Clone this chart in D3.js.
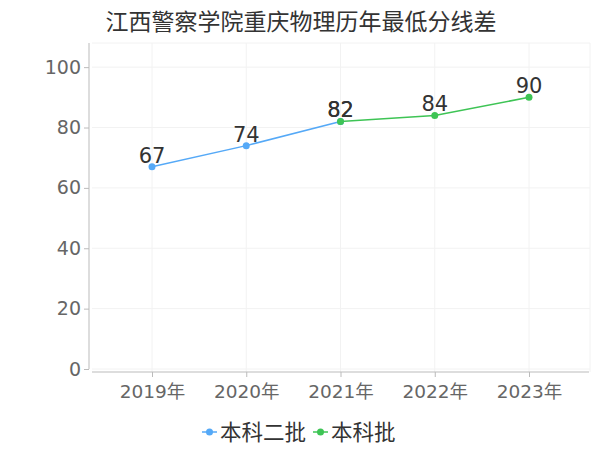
<!DOCTYPE html>
<html>
<head>
<meta charset="utf-8">
<script src="https://cdn.jsdelivr.net/npm/d3@7"></script>
<style>
    body { margin: 0; background: #fff; }
    text { font-family: "DejaVu Sans", "Noto Sans CJK SC", sans-serif; }
    .grid line { stroke: #f2f2f2; stroke-width: 1; }
</style>
</head>
<body>
<svg id="chart" width="600" height="450"></svg>
<script>
const title = "江西警察学院重庆物理历年最低分线差";
const years = ["2019年", "2020年", "2021年", "2022年", "2023年"];
const yTicks = [0, 20, 40, 60, 80, 100];
const seriesNames = ["本科二批", "本科批"];
const seriesColors = ["#55a9f7", "#3ec455"];
const erpiValues = [67, 74, 82, null, null];
const benkeValues = [null, null, 82, 84, 90];

const svg = d3.select("#chart");

const x = d3.scalePoint()
    .domain(years)
    .range([152, 529]);
const y = d3.scaleLinear()
    .domain([0, 108])
    .range([369, 43]);

svg.append("text")
    .attr("x", 301)
    .attr("y", 30)
    .attr("text-anchor", "middle")
    .attr("font-size", 23)
    .attr("font-family", "'Noto Sans CJK SC', sans-serif")
    .attr("fill", "#333")
    .text(title);

// grid
const grid = svg.append("g").attr("class", "grid");
yTicks.concat([108]).forEach(t => {
    grid.append("line")
        .attr("x1", 92).attr("x2", 590)
        .attr("y1", y(t)).attr("y2", y(t));
});
years.forEach(yr => {
    grid.append("line")
        .attr("x1", x(yr)).attr("x2", x(yr))
        .attr("y1", 43).attr("y2", 372);
});
grid.append("line")
    .attr("x1", 590).attr("x2", 590)
    .attr("y1", 43).attr("y2", 372);

// y axis
const yAxis = svg.append("g")
    .attr("transform", "translate(89,0)")
    .call(d3.axisLeft(y).tickValues(yTicks).tickSize(5).tickPadding(3).tickSizeOuter(0));
yAxis.select(".domain").attr("stroke", "#bbb").attr("d", "M0,43V369");
yAxis.selectAll(".tick line").attr("stroke", "#bbb");
yAxis.selectAll(".tick text")
    .attr("font-size", 19)
    .attr("fill", "#666")
    .attr("font-family", "'DejaVu Sans', sans-serif");

// x axis
const xAxis = svg.append("g")
    .attr("transform", "translate(0,372)")
    .call(d3.axisBottom(x).tickSize(5).tickPadding(8).tickSizeOuter(0));
xAxis.select(".domain").attr("stroke", "#bbb").attr("d", "M92,0H589");
xAxis.selectAll(".tick line").attr("stroke", "#bbb");
xAxis.selectAll(".tick text")
    .attr("font-size", 18.5)
    .attr("fill", "#666");

const line = d3.line()
    .defined(d => d.v != null)
    .x(d => x(d.year))
    .y(d => y(d.v));

[erpiValues, benkeValues].forEach((vals, i) => {
    const data = years.map((yr, j) => ({year: yr, v: vals[j]}));
    const g = svg.append("g");
    g.append("path")
        .datum(data)
        .attr("d", line)
        .attr("fill", "none")
        .attr("stroke", seriesColors[i])
        .attr("stroke-width", 1.5);
    const pts = data.filter(d => d.v != null);
    g.selectAll("circle")
        .data(pts)
        .join("circle")
        .attr("cx", d => x(d.year))
        .attr("cy", d => y(d.v))
        .attr("r", 3.5)
        .attr("fill", seriesColors[i]);
    g.selectAll("text")
        .data(pts)
        .join("text")
        .attr("x", d => x(d.year))
        .attr("y", d => y(d.v) - 4)
        .attr("text-anchor", "middle")
        .attr("font-size", 21)
        .attr("fill", "#333")
        .attr("font-family", "'DejaVu Sans', sans-serif")
        .text(d => d.v);
});

// legend
const legend = svg.append("g").attr("transform", "translate(0,432)");
const legendX = [202, 313];
seriesNames.forEach((name, i) => {
    const lg = legend.append("g").attr("transform", `translate(${legendX[i]},0)`);
    lg.append("line")
        .attr("x1", 0).attr("x2", 15)
        .attr("stroke", seriesColors[i])
        .attr("stroke-width", 1.5);
    lg.append("circle")
        .attr("cx", 7.5).attr("r", 3.5)
        .attr("fill", seriesColors[i]);
    lg.append("text")
        .attr("x", 18)
        .attr("dy", "0.36em")
        .attr("font-size", 21.5)
        .attr("font-family", "'Noto Sans CJK SC', sans-serif")
        .attr("fill", "#333")
        .text(name);
});
</script>
</body>
</html>
